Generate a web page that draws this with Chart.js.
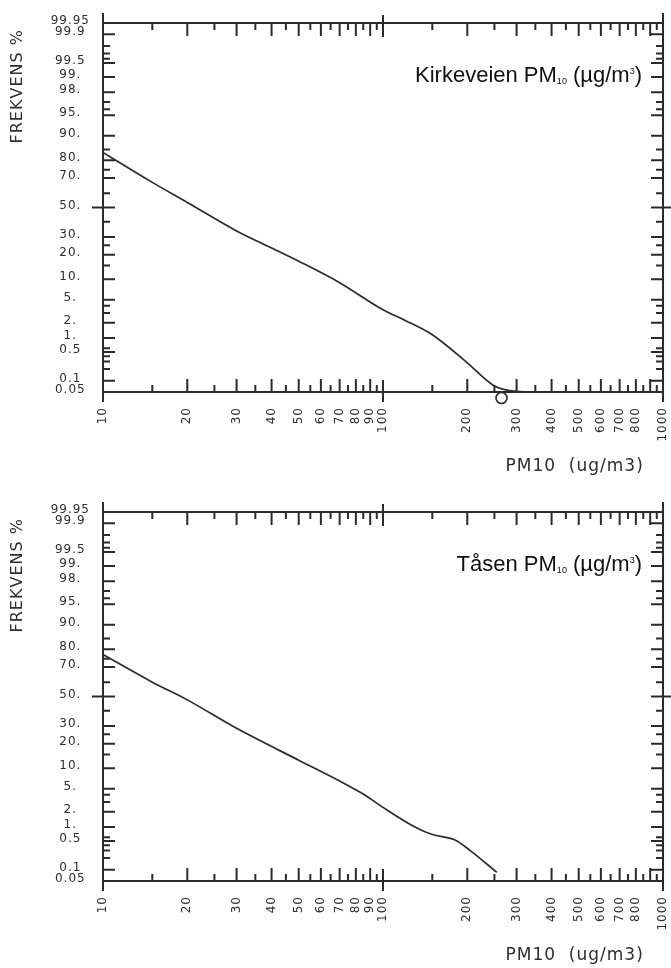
<!DOCTYPE html>
<html>
<head>
<meta charset="utf-8">
<script src="https://cdn.jsdelivr.net/npm/chart.js@4/dist/chart.umd.min.js"></script>
<style>
  html, body { margin: 0; padding: 0; background: #fff; overflow: hidden; }
  .panel { position: absolute; left: 0; width: 671px; height: 489px; }
</style>
</head>
<body>
<div class="panel" style="top:0"><canvas id="kirkeveienChart" width="671" height="489"></canvas></div>
<div class="panel" style="top:489px"><canvas id="taasenChart" width="671" height="489"></canvas></div>
<script>
// PM10 (ug/m3) vs cumulative frequency (%)
const kirkeveienPm10 = [10, 15, 20, 30, 40, 50, 70, 100, 120, 150, 200, 250, 300, 350];
const kirkeveienFreq = [83.7, 67.3, 53.6, 33.8, 23.5, 16.9, 9.0, 3.4, 2.2, 1.16, 0.28, 0.073, 0.052, 0.05];
const kirkeveienMarkPm10 = [265];
const kirkeveienMarkFreq = [0.034];

const taasenPm10 = [10, 15, 20, 30, 50, 70, 85, 100, 130, 150, 180, 205, 255];
const taasenFreq = [77.3, 60.1, 47.6, 28.5, 12.8, 6.6, 4.1, 2.4, 1.0, 0.69, 0.53, 0.30, 0.085];

// axes
const xTickLabels = [10, 20, 30, 40, 50, 60, 70, 80, 90, 100, 200, 300, 400, 500, 600, 700, 800, 1000];
const xMajorTicks = [20, 30, 40, 50, 60, 70, 80, 90, 200, 300, 400, 500, 600, 700, 800, 900];
const xMinorTicks = [15, 25, 35, 45, 55, 65, 75, 85, 95, 150, 250, 350, 450, 550, 650, 750, 850, 950];
const xCrossTicks = [100];
const yTickPercents = [0.05, 0.1, 0.5, 1, 2, 5, 10, 20, 30, 50, 70, 80, 90, 95, 98, 99, 99.5, 99.9, 99.95];
const yTickLabels = ['0.05', '0.1', '0.5', '1.', '2.', '5.', '10.', '20.', '30.', '50.', '70.', '80.', '90.', '95.', '98.', '99.', '99.5', '99.9', '99.95'];
const yMinorTicks = [0.2, 0.3, 0.4, 0.6, 3, 4, 15, 25, 40, 60, 75, 85, 96, 97, 99.6, 99.7, 99.8];

const inkColor = '#2b2b2b';
const textColor = '#2e2e2e';

// inverse normal cdf (Acklam)
const probit = function (p) {
    const a = [-39.69683028665376, 220.9460984245205, -275.9285104469687, 138.3577518672690, -30.66479806614716, 2.506628277459239];
    const b = [-54.47609879822406, 161.5858368580409, -155.6989798598866, 66.80131188771972, -13.28068155288572];
    const c = [-0.007784894002430293, -0.3223964580411365, -2.400758277161838, -2.549732539343734, 4.374664141464968, 2.938163982698783];
    const d = [0.007784695709041462, 0.3224671290700398, 2.445134137142996, 3.754408661907416];
    let q, r;
    if (p < 0.02425) {
        q = Math.sqrt(-2 * Math.log(p));
        return (((((c[0]*q+c[1])*q+c[2])*q+c[3])*q+c[4])*q+c[5]) / ((((d[0]*q+d[1])*q+d[2])*q+d[3])*q+1);
    }
    if (p > 1 - 0.02425) {
        q = Math.sqrt(-2 * Math.log(1 - p));
        return -(((((c[0]*q+c[1])*q+c[2])*q+c[3])*q+c[4])*q+c[5]) / ((((d[0]*q+d[1])*q+d[2])*q+d[3])*q+1);
    }
    q = p - 0.5;
    r = q * q;
    return (((((a[0]*r+a[1])*r+a[2])*r+a[3])*r+a[4])*r+a[5])*q / (((((b[0]*r+b[1])*r+b[2])*r+b[3])*r+b[4])*r+1);
};
const toZ = pct => probit(pct / 100);

const toPoints = function (xs, pcts) {
    let pts = [];
    for (var i = 0; i < xs.length; i++) {
        pts.push({x: xs[i], y: toZ(pcts[i])});
    }
    return pts;
};

// frame, inward ticks and the title inside the plot
const probFrame = {
    id: 'probFrame',
    beforeUpdate(chart) { chart.ctx.letterSpacing = '1px'; },
    beforeDraw(chart) { chart.ctx.letterSpacing = '1px'; },
    afterDatasetsDraw(chart) {
        const {ctx, chartArea: a, scales: {x, y}} = chart;
        const seg = (x1, y1, x2, y2) => { ctx.moveTo(x1, y1); ctx.lineTo(x2, y2); };
        ctx.save();
        ctx.strokeStyle = inkColor;
        ctx.lineWidth = 2;
        ctx.beginPath();
        seg(a.left, a.top - 10, a.left, a.bottom + 10);
        seg(a.right, a.top - 10, a.right, a.bottom + 10);
        seg(a.left, a.top, a.right, a.top);
        seg(a.left, a.bottom, a.right, a.bottom);
        xMajorTicks.forEach(v => {
            const px = x.getPixelForValue(v);
            seg(px, a.bottom, px, a.bottom - 13);
            seg(px, a.top, px, a.top + 13);
        });
        xMinorTicks.forEach(v => {
            const px = x.getPixelForValue(v);
            seg(px, a.bottom, px, a.bottom - 7);
            seg(px, a.top, px, a.top + 7);
        });
        xCrossTicks.forEach(v => {
            const px = x.getPixelForValue(v);
            seg(px, a.bottom + 10, px, a.bottom - 12);
            seg(px, a.top - 8, px, a.top + 14);
        });
        yTickPercents.forEach(p => {
            if (p === 0.05 || p === 99.95) return;
            const py = y.getPixelForValue(toZ(p));
            if (p === 50) {
                seg(a.left - 11, py, a.left + 12, py);
                seg(a.right - 12, py, a.right + 8, py);
            } else {
                seg(a.left, py, a.left + 12, py);
                seg(a.right, py, a.right - 12, py);
            }
        });
        yMinorTicks.forEach(p => {
            const py = y.getPixelForValue(toZ(p));
            seg(a.left, py, a.left + 7, py);
            seg(a.right, py, a.right - 7, py);
        });
        ctx.stroke();
        ctx.restore();
    },
    afterDraw(chart, args, opts) {
        const {ctx, chartArea: a} = chart;
        const parts = opts.title || [];
        const fontFor = p => (p.sub || p.sup ? 9 : 22) + 'px "Liberation Sans", Arial, sans-serif';
        ctx.save();
        ctx.letterSpacing = '0px';
        ctx.fillStyle = '#111';
        ctx.textBaseline = 'alphabetic';
        ctx.textAlign = 'left';
        let total = 0;
        parts.forEach(p => { ctx.font = fontFor(p); total += ctx.measureText(p.t).width; });
        let tx = a.right - 21 - total;
        const base = a.top + 59;
        parts.forEach(p => {
            ctx.font = fontFor(p);
            const dy = p.sub ? 2 : (p.sup ? -8 : 0);
            ctx.fillText(p.t, tx, base + dy);
            tx += ctx.measureText(p.t).width;
        });
        ctx.restore();
    }
};

probChart = function (element, xs, pcts, title, extraSets) {
    const datasets = [{
        data: toPoints(xs, pcts),
        borderColor: inkColor,
        borderWidth: 1.7,
        pointRadius: 0,
        cubicInterpolationMode: 'monotone',
        fill: false
    }].concat(extraSets || []);
    return new Chart(element, {
        type: 'line',
        data: {datasets: datasets},
        options: {
            responsive: false,
            animation: false,
            layout: {padding: {top: 23, right: 8, left: 0, bottom: 0}},
            plugins: {
                legend: {display: false},
                tooltip: {enabled: false},
                probFrame: {title: title}
            },
            scales: {
                x: {
                    type: 'logarithmic',
                    min: 10,
                    max: 1000,
                    grid: {display: false, drawTicks: false},
                    border: {display: false},
                    afterBuildTicks: s => { s.ticks = xTickLabels.map(v => ({value: v})); },
                    afterFit: s => { s.height = 97; s.paddingLeft = 0; s.paddingRight = 0; },
                    ticks: {
                        autoSkip: false, minRotation: 90, maxRotation: 90, padding: 15,
                        color: textColor, font: {family: 'DejaVu Sans', size: 12},
                        callback: v => String(v)
                    },
                    title: {
                        display: true, text: 'PM10  (ug/m3)   ', align: 'end', color: textColor,
                        font: {family: 'DejaVu Sans', size: 17}, padding: {top: 0, bottom: 12.5}
                    }
                },
                y: {
                    type: 'linear',
                    min: toZ(0.05),
                    max: toZ(99.95),
                    grid: {display: false, drawTicks: false},
                    border: {display: false},
                    afterBuildTicks: s => { s.ticks = yTickPercents.map(p => ({value: toZ(p)})); },
                    afterFit: s => { s.width = 103; },
                    ticks: {
                        autoSkip: false, crossAlign: 'center', padding: 13, labelOffset: -2,
                        color: textColor, font: {family: 'DejaVu Sans', size: 12},
                        callback: (v, i) => yTickLabels[i]
                    },
                    title: {
                        display: true, text: 'FREKVENS % ', align: 'end', color: textColor,
                        font: {family: 'DejaVu Sans', size: 16}, padding: {top: 8.4, bottom: 0}
                    }
                }
            }
        },
        plugins: [probFrame]
    });
};

const kirkeveienChart = probChart(document.getElementById('kirkeveienChart'), kirkeveienPm10, kirkeveienFreq,
    [{t: 'Kirkeveien PM'}, {t: '10', sub: true}, {t: ' (µg/m'}, {t: '3', sup: true}, {t: ')'}],
    [{
        data: toPoints(kirkeveienMarkPm10, kirkeveienMarkFreq),
        showLine: false,
        pointRadius: 5.5,
        pointBorderWidth: 1.6,
        pointBorderColor: inkColor,
        pointBackgroundColor: 'rgba(0,0,0,0)',
        clip: false
    }]);

const taasenChart = probChart(document.getElementById('taasenChart'), taasenPm10, taasenFreq,
    [{t: 'Tåsen PM'}, {t: '10', sub: true}, {t: ' (µg/m'}, {t: '3', sup: true}, {t: ')'}]);
</script>
</body>
</html>
